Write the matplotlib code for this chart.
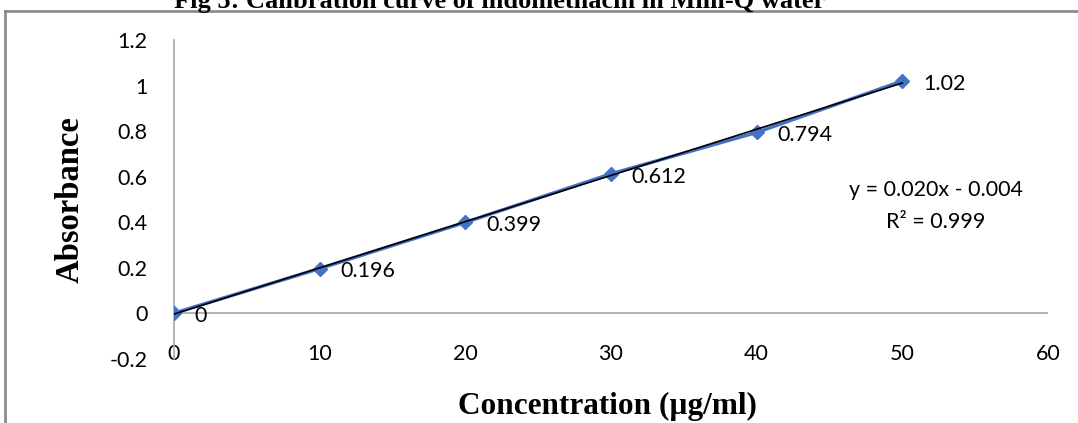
import numpy as np
import matplotlib.pyplot as plt
from matplotlib.lines import Line2D

# --- DATA ---
conc = [0, 10, 20, 30, 40, 50]
absorbance = [0, 0.196, 0.399, 0.612, 0.794, 1.02]
point_labels = ['0', '0.196', '0.399', '0.612', '0.794', '1.02']
x_ticks = [0, 10, 20, 30, 40, 50, 60]
y_ticks = [-0.2, 0, 0.2, 0.4, 0.6, 0.8, 1, 1.2]
y_tick_labels = ['-0.2', '0', '0.2', '0.4', '0.6', '0.8', '1', '1.2']
equation = 'y = 0.020x - 0.004'
r_squared = 'R² = 0.999'

W, H = 1078, 423
fig = plt.figure(figsize=(W / 100, H / 100), dpi=100)
ax = fig.add_axes([174 / W, 1 - 358.7 / H, (1048 - 174) / W, (358.7 - 40) / H])

blue = '#4472C4'
grey = '#A6A6A6'
tick_font = 'Lato'
fs = 15.5

ax.plot(conc, absorbance, color=blue, lw=2.5, marker='D', ms=7, zorder=3)

# linear trendline
slope, intercept = np.polyfit(conc, absorbance, 1)
xs = np.array([conc[0], conc[-1]])
ax.plot(xs, slope * xs + intercept, color='black', lw=1.2, zorder=4)

for x, y, s in zip(conc, absorbance, point_labels):
    ax.annotate(s, (x, y), xytext=(15, -2), textcoords='offset points',
                ha='left', va='center', fontsize=fs, family=tick_font)

ax.text(52.3, 0.54, equation, ha='center', va='center', fontsize=fs, family=tick_font)
ax.text(52.3, 0.40, r_squared, ha='center', va='center', fontsize=fs, family=tick_font)

ax.set_xlim(0, 60)
ax.set_ylim(-0.2, 1.2)
ax.set_xticks(x_ticks)
ax.set_xticklabels([str(t) for t in x_ticks], family=tick_font, fontsize=fs)
ax.set_yticks(y_ticks)
ax.set_yticklabels(y_tick_labels, family=tick_font, fontsize=fs)
ax.tick_params(axis='both', length=0)
ax.tick_params(axis='x', pad=-10.5)
ax.tick_params(axis='y', pad=19)

for side in ['top', 'right', 'bottom']:
    ax.spines[side].set_visible(False)
ax.spines['left'].set_color(grey)
ax.spines['left'].set_linewidth(1.2)
ax.axhline(0, color=grey, lw=1.2, zorder=1)
ax.set_facecolor('none')

fig.text(70 / W, 1 - 200 / H, 'Absorbance', rotation=90, ha='center', va='center',
         fontsize=23.5, fontweight='bold', family='Liberation Serif')
fig.text(607 / W, 1 - 421 / H, 'Concentration (µg/ml)', ha='center', va='bottom',
         fontsize=22.5, fontweight='bold', family='Liberation Serif')
# title sits partly above the page edge, as in the source figure
fig.text(500 / W, 1 - 8 / H, 'Fig 5: Calibration curve of indomethacin in Milli-Q water',
         ha='center', va='baseline', fontsize=19, fontweight='bold', family='Liberation Serif')

# chart frame
fig.add_artist(Line2D([5 / W, 5 / W], [0, 1 - 11 / H], color='#8C8C8C', lw=2))
fig.add_artist(Line2D([5 / W, 1], [1 - 11 / H, 1 - 11 / H], color='#8C8C8C', lw=2))

fig.savefig('out.png', dpi=100)
